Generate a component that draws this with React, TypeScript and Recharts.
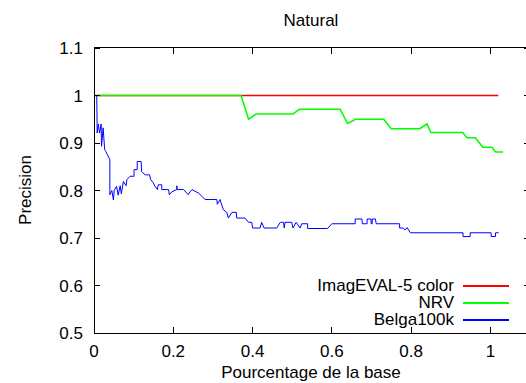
import React from "react";
import { LineChart, Line, XAxis, YAxis } from "recharts";

// series values
const imagevalX = [0, 1.02];
const imagevalY = [1, 1];

const nrvX = [0.01, 0.371, 0.39, 0.409, 0.502, 0.518, 0.621, 0.64, 0.66, 0.731, 0.75, 0.822, 0.84, 0.85, 0.93, 0.941, 0.962, 0.981, 1.004, 1.013, 1.032];
const nrvY = [1, 1, 0.95, 0.961, 0.961, 0.971, 0.971, 0.941, 0.95, 0.95, 0.93, 0.93, 0.94, 0.922, 0.922, 0.911, 0.911, 0.891, 0.891, 0.881, 0.881];

const belgaX = [
  0.0, 0.007, 0.008, 0.011, 0.014, 0.018, 0.019, 0.023, 0.027, 0.03, 0.04, 0.04, 0.045, 0.049, 0.051, 0.057, 0.061, 0.066,
  0.069, 0.074, 0.081, 0.083, 0.091, 0.101, 0.101, 0.109, 0.109, 0.119, 0.12, 0.129, 0.14, 0.143, 0.149, 0.154, 0.16,
  0.162, 0.171, 0.171, 0.188, 0.19, 0.196, 0.209, 0.209, 0.21, 0.226, 0.238, 0.242, 0.247, 0.258, 0.263, 0.272, 0.28,
  0.31, 0.311, 0.318, 0.326, 0.335, 0.339, 0.348, 0.359, 0.36, 0.381, 0.39, 0.398, 0.4, 0.419, 0.423, 0.429, 0.461,
  0.47, 0.478, 0.48, 0.482, 0.499, 0.502, 0.51, 0.52, 0.524, 0.539, 0.539, 0.589, 0.6, 0.659, 0.659, 0.676, 0.677,
  0.689, 0.689, 0.699, 0.699, 0.702, 0.702, 0.71, 0.712, 0.771, 0.771, 0.78, 0.785, 0.79, 0.798, 0.931, 0.931, 0.949,
  0.949, 1.002, 1.002, 1.013, 1.013, 1.021,
];
const belgaY = [
  1, 1, 0.921, 0.94, 0.921, 0.94, 0.893, 0.932, 0.886, 0.882, 0.865, 0.791, 0.8, 0.78, 0.8, 0.809, 0.79, 0.81,
  0.793, 0.819, 0.81, 0.823, 0.83, 0.83, 0.844, 0.844, 0.861, 0.861, 0.84, 0.833, 0.833, 0.823, 0.817, 0.809, 0.802,
  0.812, 0.812, 0.802, 0.802, 0.791, 0.797, 0.802, 0.81, 0.802, 0.802, 0.791, 0.797, 0.802, 0.797, 0.795, 0.788, 0.781,
  0.781, 0.771, 0.781, 0.76, 0.754, 0.742, 0.754, 0.754, 0.742, 0.742, 0.733, 0.733, 0.721, 0.721, 0.733, 0.721, 0.721,
  0.733, 0.733, 0.721, 0.733, 0.733, 0.721, 0.733, 0.721, 0.73, 0.73, 0.72, 0.72, 0.73, 0.73, 0.74, 0.74, 0.73,
  0.73, 0.74, 0.74, 0.73, 0.73, 0.74, 0.74, 0.73, 0.73, 0.721, 0.721, 0.717, 0.722, 0.711, 0.711, 0.703, 0.703,
  0.711, 0.711, 0.703, 0.703, 0.711, 0.711,
];

const xTicks = [0, 0.2, 0.4, 0.6, 0.8, 1];
const yTicks = [0.5, 0.6, 0.7, 0.8, 0.9, 1, 1.1];
const X_DOMAIN = [0, 1.1];
const Y_DOMAIN = [0.5, 1.1];

const seriesNames = ["ImagEVAL-5 color", "NRV", "Belga100k"];
const seriesColors = ["#ff0000", "#00ff00", "#0000ff"];
const seriesWidths = [1.4, 1.6, 1];

const toPoints = (xs: number[], ys: number[]) => xs.map((x, i) => ({ x, y: ys[i] }));

const FONT = "'Liberation Sans', Arial, sans-serif";
const FS = 17;
const TICK = 6;

const CHART_W = 540;
const CHART_H = 383;
const MARGIN = { top: 48, right: 10, bottom: 0, left: 0 };
const Y_AXIS_W = 94;
const X_AXIS_H = 50;
const PLOT_L = MARGIN.left + Y_AXIS_W;
const PLOT_T = MARGIN.top;
const PLOT_W = CHART_W - PLOT_L - MARGIN.right;
const PLOT_H = CHART_H - PLOT_T - MARGIN.bottom - X_AXIS_H;

// same linear mapping the axes use, only for the mirrored frame ticks
const fx = (v: number) => PLOT_L + ((v - X_DOMAIN[0]) / (X_DOMAIN[1] - X_DOMAIN[0])) * PLOT_W;
const fy = (v: number) => PLOT_T + PLOT_H - ((v - Y_DOMAIN[0]) / (Y_DOMAIN[1] - Y_DOMAIN[0])) * PLOT_H;

function BottomTick({ x, y, payload }: any) {
  return (
    <g>
      <line x1={x} y1={y} x2={x} y2={y - TICK} stroke="#000" shapeRendering="crispEdges" />
      <text x={x} y={y + 24} textAnchor="middle" fontSize={FS} fontFamily={FONT} fill="#000">
        {payload.value}
      </text>
    </g>
  );
}

function LeftTick({ x, y, payload }: any) {
  return (
    <g>
      <line x1={x} y1={y} x2={x + TICK} y2={y} stroke="#000" shapeRendering="crispEdges" />
      <text x={x - 11} y={y + 6} textAnchor="end" fontSize={FS} fontFamily={FONT} fill="#000">
        {payload.value}
      </text>
    </g>
  );
}

// top and right edges of the gnuplot box, with mirrored inward ticks
function FrameOverlay() {
  const right = PLOT_L + PLOT_W;
  return (
    <>
      <div
        style={{
          position: "absolute",
          left: PLOT_L,
          top: PLOT_T - 1,
          width: PLOT_W,
          height: PLOT_H,
          borderTop: "1px solid #000",
          borderRight: "1px solid #000",
          pointerEvents: "none",
        }}
      />
      <svg
        width={CHART_W}
        height={CHART_H}
        style={{ position: "absolute", left: 0, top: 0, pointerEvents: "none" }}
        shapeRendering="crispEdges"
      >
        {xTicks.map((t) => (
          <line key={"t" + t} x1={fx(t)} y1={PLOT_T} x2={fx(t)} y2={PLOT_T + TICK} stroke="#000" />
        ))}
        {yTicks.map((t) => (
          <line key={"r" + t} x1={right} y1={fy(t)} x2={right - TICK} y2={fy(t)} stroke="#000" />
        ))}
      </svg>
    </>
  );
}

export default function App() {
  const series = [
    toPoints(imagevalX, imagevalY),
    toPoints(nrvX, nrvY),
    toPoints(belgaX, belgaY),
  ];
  const legendY = [286, 303, 320];

  return (
    <div
      style={{
        position: "absolute",
        left: 0,
        top: 0,
        width: 526,
        height: 383,
        overflow: "hidden",
        background: "#fff",
        fontFamily: FONT,
        fontSize: FS,
        lineHeight: "17px",
      }}
    >
      <LineChart width={CHART_W} height={CHART_H} margin={MARGIN}>
        <XAxis
          dataKey="x"
          type="number"
          domain={X_DOMAIN}
          ticks={xTicks}
          allowDataOverflow
          height={X_AXIS_H}
          tickSize={0}
          tickMargin={0}
          tickLine={false}
          axisLine={{ stroke: "#000", shapeRendering: "crispEdges" }}
          tick={<BottomTick />}
        />
        <YAxis
          type="number"
          domain={Y_DOMAIN}
          ticks={yTicks}
          allowDataOverflow
          width={Y_AXIS_W}
          tickSize={0}
          tickMargin={0}
          tickLine={false}
          axisLine={{ stroke: "#000", shapeRendering: "crispEdges" }}
          tick={<LeftTick />}
        />
        {series.map((d, i) => (
          <Line
            key={seriesNames[i]}
            data={d}
            dataKey="y"
            type="linear"
            stroke={seriesColors[i]}
            strokeWidth={seriesWidths[i]}
            dot={false}
            activeDot={false}
            isAnimationActive={false}
          />
        ))}
      </LineChart>
      <FrameOverlay />

      <div style={{ position: "absolute", left: 0, width: 622, top: 12, textAlign: "center" }}>
        Natural
      </div>
      <div style={{ position: "absolute", left: 0, width: 622, top: 364, textAlign: "center" }}>
        Pourcentage de la base
      </div>
      <div
        style={{
          position: "absolute",
          left: 25,
          top: 190,
          whiteSpace: "nowrap",
          transform: "translate(-50%, -50%) rotate(-90deg)",
        }}
      >
        Precision
      </div>
      {seriesNames.map((name, i) => (
        <div
          key={name}
          style={{ position: "absolute", left: 200, top: legendY[i] - 8, height: 16, display: "flex", alignItems: "center" }}
        >
          <span style={{ width: 254, textAlign: "right", lineHeight: "16px" }}>{name}</span>
          <span style={{ marginLeft: 9, width: 46, height: 1.5, background: seriesColors[i] }} />
        </div>
      ))}
    </div>
  );
}
